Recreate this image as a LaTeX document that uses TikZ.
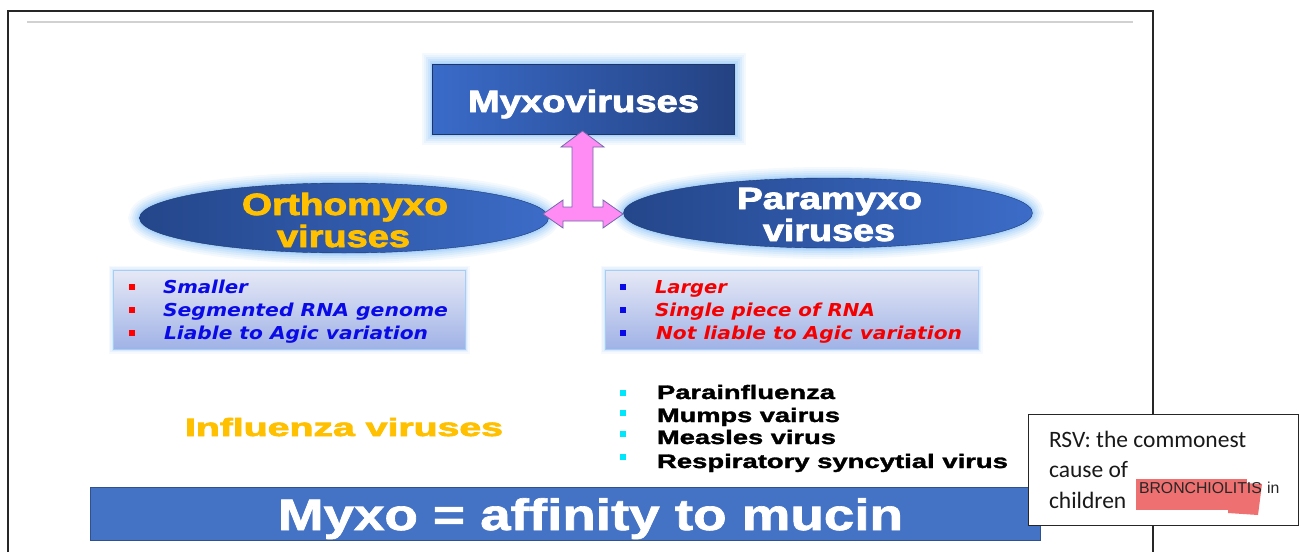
\documentclass[tikz,border=0pt]{standalone}
\usepackage{fontspec}
\setmainfont{Liberation Sans}
\newfontfamily\heavyfont{Liberation Sans}[UprightFeatures={FakeBold=2.5},BoldFeatures={FakeBold=2.5}]
\newfontfamily\midfont{Liberation Sans}[UprightFeatures={FakeBold=1.5},BoldFeatures={FakeBold=1.5}]
\newfontfamily\dvfont{DejaVu Sans}
\newfontfamily\calfont{Carlito}
\usetikzlibrary{shapes.geometric}
\definecolor{glowc}{RGB}{150,200,250}
\definecolor{boxL}{RGB}{58,107,201}
\definecolor{boxR}{RGB}{36,66,130}
\definecolor{ellL}{RGB}{36,70,138}
\definecolor{ellR}{RGB}{60,108,200}
\definecolor{gold}{RGB}{255,192,0}
\definecolor{listtop}{RGB}{230,233,246}
\definecolor{listbot}{RGB}{160,178,230}
\definecolor{listborder}{RGB}{165,205,245}
\definecolor{itemblue}{RGB}{10,10,230}
\definecolor{itemred}{RGB}{245,0,0}
\definecolor{sqcyan}{RGB}{0,230,250}
\definecolor{pinkfill}{RGB}{255,140,245}
\definecolor{pinkline}{RGB}{115,105,170}
\definecolor{barblue}{RGB}{68,114,196}
\definecolor{barline}{RGB}{47,82,143}
\definecolor{hilite}{RGB}{238,112,112}
\newcommand\fitw[2]{\resizebox{#1}{\height}{#2}}
\begin{document}
\begin{tikzpicture}[x=1pt,y=-1pt,
  glow/.style={preaction={draw=glowc,line width=22pt,opacity=0.1},
               preaction={draw=glowc,line width=18pt,opacity=0.12},
               preaction={draw=glowc,line width=14pt,opacity=0.16},
               preaction={draw=glowc,line width=10pt,opacity=0.22},
               preaction={draw=glowc,line width=6pt,opacity=0.3},
               preaction={draw=glowc,line width=3pt,opacity=0.4}},
  softglow/.style={preaction={draw=glowc,line width=9pt,opacity=0.08},
               preaction={draw=glowc,line width=6pt,opacity=0.12},
               preaction={draw=glowc,line width=3pt,opacity=0.2}},
  txt/.style={inner sep=0pt,outer sep=0pt,anchor=base},
  txtl/.style={inner sep=0pt,outer sep=0pt,anchor=base west},
  ttl/.style={font=\heavyfont\fontsize{30.7pt}{36pt}\selectfont\bfseries},
  itm/.style={font=\dvfont\fontsize{17.8pt}{21pt}\selectfont\bfseries\itshape},
  lst/.style={font=\midfont\fontsize{19.5pt}{23pt}\selectfont\bfseries, text=black},
  listbox/.style={rectangle,inner sep=0pt,minimum height=79pt,top color=listtop,bottom color=listbot,draw=listborder,line width=1pt,softglow},
  sq/.style={rectangle,inner sep=0pt,minimum size=6pt},
  ell/.style={ellipse,inner sep=0pt,minimum width=409pt,minimum height=70pt,left color=ellL,right color=ellR,draw=ellL!80!black,line width=0.4pt,glow}]
\useasboundingbox (0,0) rectangle (1301,552);
\fill[white] (0,0) rectangle (1301,552);
% frame
\draw[line width=1.6pt,black!85] (8,552) -- (8,11) -- (1153,11) -- (1153,552);
\draw[line width=2pt,black!18] (27,22) -- (1133,22);
% title box
\node[rectangle,inner sep=0pt,minimum width=302pt,minimum height=70pt,left color=boxL,right color=boxR,draw=boxR!80!black,line width=0.4pt,glow] (myxo) at (583.5,99) {};
\node[txt,ttl,text=white] (myxoT) at (583.5,112) {\fitw{231pt}{Myxoviruses}};
% ellipses
\node[ell] (ortho) at (344,218) {};
\node[ell] (para) at (828,213) {};
\node[txt,ttl,text=gold] (orthoT1) at (345,215) {\fitw{206pt}{Orthomyxo}};
\node[txt,ttl,text=gold] (orthoT2) at (343.5,247) {\fitw{133pt}{viruses}};
\node[txt,ttl,text=white] (paraT1) at (829.5,209) {\fitw{185pt}{Paramyxo}};
\node[txt,ttl,text=white] (paraT2) at (829,241) {\fitw{132pt}{viruses}};
% pink double arrow
\filldraw[fill=pinkfill,draw=pinkline,line width=0.8pt,line join=miter]
  (582.5,131) -- (604,147) -- (593,147) -- (593,207) -- (603,207) -- (603,200) -- (623,214)
  -- (603,228) -- (603,221) -- (563,221) -- (563,228) -- (543,214) -- (563,200) -- (563,207)
  -- (572,207) -- (572,147) -- (561,147) -- cycle;
% list boxes
\node[listbox,minimum width=352pt] (lbox) at (289,309.5) {};
\node[listbox,minimum width=373pt] (rbox) at (791.5,309.5) {};
\foreach \y/\n in {287/a,310/b,333/c}{
  \node[sq,fill=red] (lsq\n) at (132,\y) {};
  \node[sq,fill=itemblue] (rsq\n) at (623,\y) {};
}
\node[txtl,itm,text=itemblue] (l1) at (163,293) {\fitw{85pt}{Smaller}};
\node[txtl,itm,text=itemblue] (l2) at (163,316) {\fitw{285pt}{Segmented RNA genome}};
\node[txtl,itm,text=itemblue] (l3) at (164,339) {\fitw{264pt}{Liable to Agic variation}};
\node[txtl,itm,text=itemred] (r1) at (655,293) {\fitw{72pt}{Larger}};
\node[txtl,itm,text=itemred] (r2) at (655,316) {\fitw{220pt}{Single piece of RNA}};
\node[txtl,itm,text=itemred] (r3) at (656,339) {\fitw{306pt}{Not liable to Agic variation}};
% influenza
\node[txtl,font=\heavyfont\fontsize{25pt}{30pt}\selectfont\bfseries,text=gold] (flu) at (185,436) {\fitw{318pt}{Influenza viruses}};
% paramyxo members
\foreach \y/\n in {393/a,413/b,434/c,457/d}{
  \node[sq,fill=sqcyan] (csq\n) at (623,\y) {};
}
\node[txtl,lst] (m1) at (657,399) {\fitw{178pt}{Parainfluenza}};
\node[txtl,lst] (m2) at (657,422) {\fitw{183pt}{Mumps vairus}};
\node[txtl,lst] (m3) at (657,444) {\fitw{179pt}{Measles virus}};
\node[txtl,lst] (m4) at (657,468) {\fitw{351pt}{Respiratory syncytial virus}};
% bottom bar
\node[rectangle,inner sep=0pt,anchor=north west,minimum width=950pt,minimum height=53pt,fill=barblue,draw=barline,line width=0.8pt] (bar) at (90,487) {};
\node[txtl,font=\midfont\fontsize{44pt}{50pt}\selectfont\bfseries,text=white] (barT) at (278,530) {\fitw{625pt}{Myxo = affinity to mucin}};
% RSV note
\node[rectangle,inner sep=0pt,anchor=north west,minimum width=270pt,minimum height=111pt,fill=white,draw=black!85,line width=0.8pt] (note) at (1028,414) {};
\fill[hilite] (1136,479) rectangle (1247,510);
\fill[hilite] (1228,482) -- (1262,484) -- (1258,515) -- (1228,513) -- cycle;
\node[txtl,font=\calfont\fontsize{23.5pt}{28pt}\selectfont,text=black!90] (n1) at (1049,447) {RSV: the commonest};
\node[txtl,font=\calfont\fontsize{23.5pt}{28pt}\selectfont,text=black!90] (n2) at (1049,477) {cause of};
\node[txtl,font=\calfont\fontsize{23.5pt}{28pt}\selectfont,text=black!90] (n3) at (1049,508) {children};
\node[txtl,font=\fontsize{15.8pt}{18pt}\selectfont,text=black!85] (n4) at (1139,493) {BRONCHIOLITIS};
\node[txtl,font=\fontsize{15.8pt}{18pt}\selectfont,text=black!85] (n5) at (1267,493) {in};
\end{tikzpicture}
\end{document}
